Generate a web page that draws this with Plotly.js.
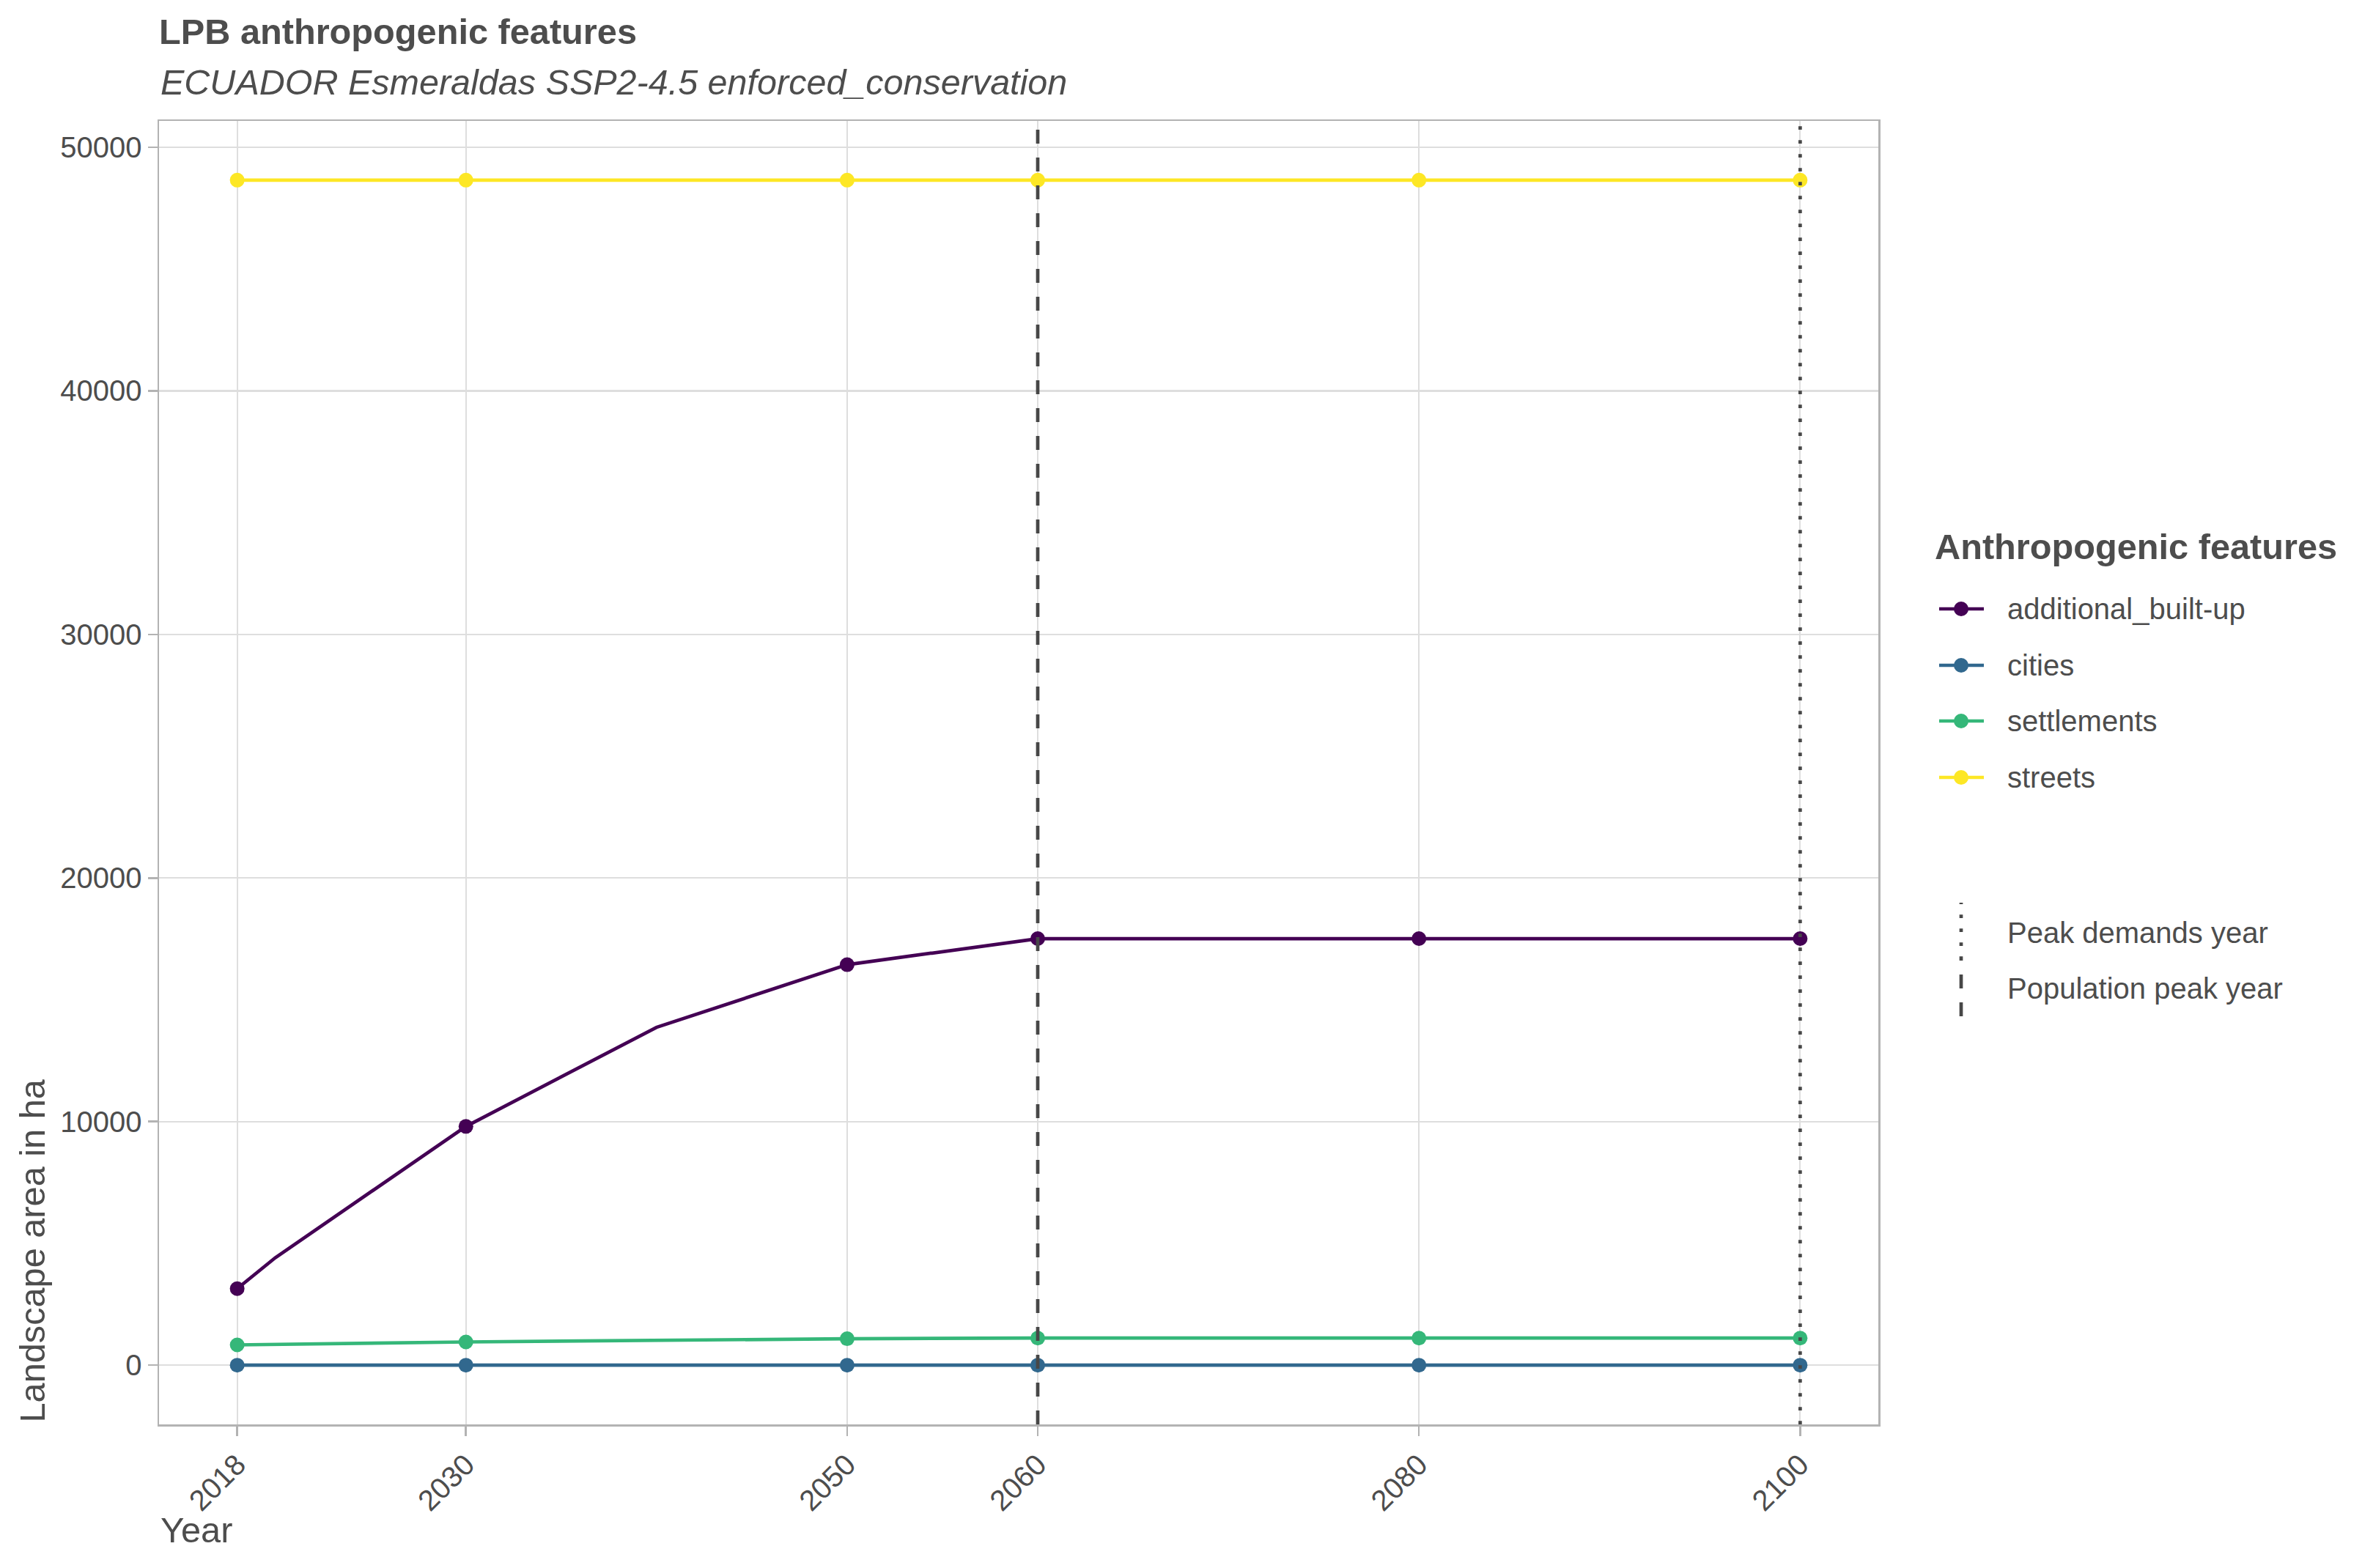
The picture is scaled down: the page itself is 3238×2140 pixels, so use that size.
<!DOCTYPE html>
<html>
<head>
<meta charset="utf-8">
<script src="https://cdn.plot.ly/plotly-3.0.1.min.js"></script>
<style>
  html, body { margin: 0; padding: 0; background: #ffffff; }
  #chart { width: 3238px; height: 2140px; }
</style>
</head>
<body>
<div id="chart"></div>
<script>
// ---------------- data ----------------
const seriesNames = ['additional_built-up', 'cities', 'settlements', 'streets'];
const builtupYears = [2018, 2020, 2030, 2040, 2050, 2060, 2080, 2100];
const builtupValues = [3140, 4410, 9800, 13870, 16440, 17510, 17510, 17510];
const pointYears = [2018, 2030, 2050, 2060, 2080, 2100];
const citiesValues = [0, 0, 0, 0, 0, 0];
const settlementsValues = [832, 952, 1084, 1111, 1111, 1111];
const streetsValues = [48650, 48650, 48650, 48650, 48650, 48650];
const xTickVals = [2018, 2030, 2050, 2060, 2080, 2100];
const yTickVals = [0, 10000, 20000, 30000, 40000, 50000];
const populationPeakYear = 2060;
const peakDemandsYear = 2100;
const legendTitle = 'Anthropogenic features';
const vlineLabels = ['Peak demands year', 'Population peak year'];

// ---------------- styles ----------------
const seriesColors = ['#440154', '#31688E', '#35B779', '#FDE725'];
const FONT = 'Liberation Sans, Arial, Helvetica, sans-serif';
const TXT = '#4D4D4D';
const W = 3238, H = 2140;
const M = { l: 217, r: 675, t: 165, b: 196 };
const PW = W - M.l - M.r, PH = H - M.t - M.b;
const px2x = p => (p - M.l) / PW;
const py2y = p => (H - M.b - p) / PH;
const VLINE = '#474747';
const LINE_W = 4.7, MARKER = 20;
const DASHED = '19px,19px', DOTTED = '4.75px,14.25px';

const seriesX = [builtupYears, pointYears, pointYears, pointYears];
const seriesY = [builtupValues, citiesValues, settlementsValues, streetsValues];

const traces = seriesNames.map((name, i) => ({
  type: 'scatter',
  mode: 'lines+markers',
  name: name,
  x: seriesX[i],
  y: seriesY[i],
  line: { color: seriesColors[i], width: LINE_W },
  marker: {
    color: seriesColors[i],
    opacity: 1,
    line: { width: 0 },
    size: seriesX[i].map(yr => pointYears.includes(yr) ? MARKER : 0)
  },
  showlegend: false,
  hoverinfo: 'x+y+name'
}));

const dataMin = 0, dataMax = Math.max(...streetsValues);
const ypad = (dataMax - dataMin) * 0.05;
const xmin = Math.min(...builtupYears), xmax = Math.max(...builtupYears);
const xpad = (xmax - xmin) * 0.05;

const shapes = [
  { type: 'line', xref: 'x', yref: 'paper', x0: populationPeakYear, x1: populationPeakYear, y0: 0, y1: 1,
    line: { color: VLINE, width: LINE_W, dash: DASHED } },
  { type: 'line', xref: 'x', yref: 'paper', x0: peakDemandsYear, x1: peakDemandsYear, y0: 0, y1: 1,
    line: { color: VLINE, width: LINE_W, dash: DOTTED } },
  // legend keys for the vertical lines
  { type: 'line', xref: 'paper', yref: 'paper', x0: px2x(2676), x1: px2x(2676), y0: py2y(1310), y1: py2y(1232),
    line: { color: VLINE, width: LINE_W, dash: DOTTED } },
  { type: 'line', xref: 'paper', yref: 'paper', x0: px2x(2676), x1: px2x(2676), y0: py2y(1387), y1: py2y(1310),
    line: { color: VLINE, width: LINE_W, dash: DASHED } }
];

const annotations = [
  { text: '<i>ECUADOR Esmeraldas SSP2-4.5 enforced_conservation</i>', xref: 'paper', yref: 'paper',
    x: 0, y: 1, xanchor: 'left', yanchor: 'middle', yshift: M.t - 112, showarrow: false,
    font: { family: FONT, size: 48.5, color: TXT } },
  { text: 'Year', xref: 'paper', yref: 'paper', x: 0, y: 0, xanchor: 'left', yanchor: 'middle',
    yshift: -(2088 - (H - M.b)), showarrow: false, font: { family: FONT, size: 48.7, color: TXT } },
  { text: 'Landscape area in ha', xref: 'paper', yref: 'paper', x: 0, y: 0, xanchor: 'center', yanchor: 'bottom',
    xshift: 43 - M.l, textangle: -90, showarrow: false, font: { family: FONT, size: 48.7, color: TXT } },
  { text: '<b>' + legendTitle + '</b>', xref: 'paper', yref: 'paper', x: px2x(2638), y: py2y(746),
    xanchor: 'left', yanchor: 'middle', showarrow: false, font: { family: FONT, size: 48.7, color: TXT } },
  { text: vlineLabels[0], xref: 'paper', yref: 'paper', x: px2x(2737), y: py2y(1287 - 14), xanchor: 'left', yanchor: 'middle',
    showarrow: false, font: { family: FONT, size: 40, color: TXT } },
  { text: vlineLabels[1], xref: 'paper', yref: 'paper', x: px2x(2737), y: py2y(1363 - 14), xanchor: 'left', yanchor: 'middle',
    showarrow: false, font: { family: FONT, size: 40, color: TXT } }
];

// series legend (drawn by hand so the keys match the reference)
const legendRowY = [831, 908, 984, 1061];
seriesNames.forEach((name, i) => {
  const cy = py2y(legendRowY[i]);
  shapes.push({ type: 'line', xref: 'paper', yref: 'paper', x0: px2x(2646), x1: px2x(2707), y0: cy, y1: cy,
    line: { color: seriesColors[i], width: LINE_W } });
  shapes.push({ type: 'circle', xref: 'paper', yref: 'paper', xsizemode: 'pixel', ysizemode: 'pixel',
    xanchor: px2x(2676), yanchor: cy, x0: -MARKER / 2, x1: MARKER / 2, y0: -MARKER / 2, y1: MARKER / 2,
    fillcolor: seriesColors[i], line: { width: 0 } });
  annotations.push({ text: name, xref: 'paper', yref: 'paper', x: px2x(2737), y: cy, xanchor: 'left', yanchor: 'middle',
    showarrow: false, font: { family: FONT, size: 40, color: TXT } });
});

const layout = {
  width: W, height: H,
  margin: M,
  paper_bgcolor: '#ffffff', plot_bgcolor: '#ffffff',
  font: { family: FONT, color: TXT },
  title: {
    text: '<b>LPB anthropogenic features</b>',
    font: { family: FONT, size: 48.7, color: TXT },
    xref: 'container', yref: 'container',
    x: M.l / W, xanchor: 'left',
    y: 1 - 43 / H, yanchor: 'middle'
  },
  xaxis: {
    range: [xmin - xpad, xmax + xpad],
    tickmode: 'array', tickvals: xTickVals, ticktext: xTickVals.map(String),
    tickangle: -45,
    ticks: 'outside', ticklen: 13, tickwidth: 2.5, tickcolor: '#B3B3B3',
    showline: true, mirror: true, linecolor: '#B3B3B3', linewidth: 2.5,
    showgrid: true, gridcolor: '#DEDEDE', gridwidth: 2.2,
    zeroline: false,
    tickfont: { family: FONT, size: 40, color: TXT }
  },
  yaxis: {
    range: [dataMin - ypad, dataMax + ypad],
    tickmode: 'array', tickvals: yTickVals, ticktext: yTickVals.map(String),
    ticks: 'outside', ticklen: 13, tickwidth: 2.5, tickcolor: '#B3B3B3',
    showline: true, mirror: true, linecolor: '#B3B3B3', linewidth: 2.5,
    showgrid: true, gridcolor: '#DEDEDE', gridwidth: 2.2,
    zeroline: false,
    tickfont: { family: FONT, size: 40, color: TXT }
  },
  showlegend: false,
  shapes: shapes,
  annotations: annotations
};

Plotly.newPlot('chart', traces, layout, { displayModeBar: false, staticPlot: true });
</script>
</body>
</html>
